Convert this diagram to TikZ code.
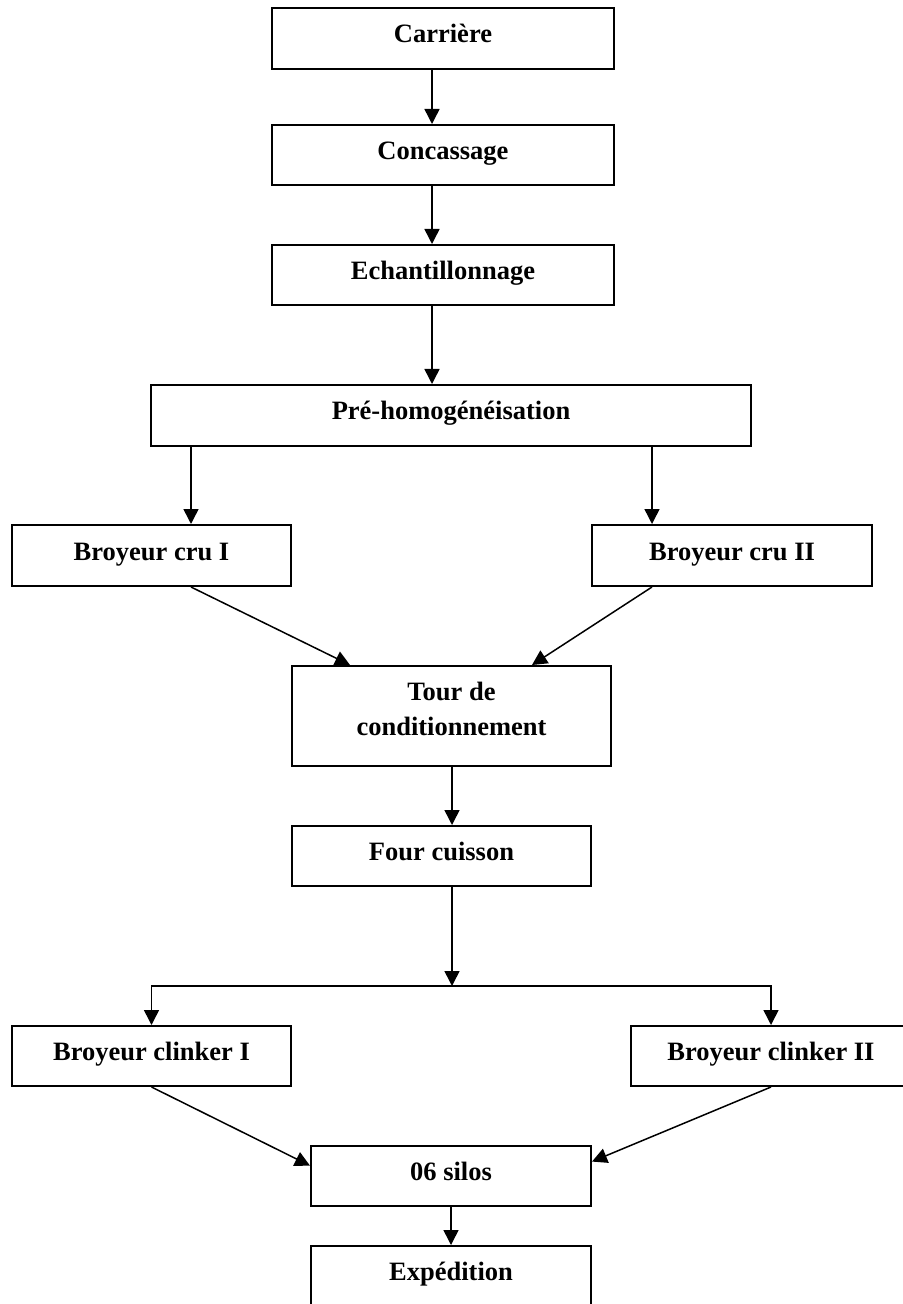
\documentclass[tikz,border=0pt]{standalone}
\usepackage{fontspec}
\setmainfont{Liberation Serif}
\usetikzlibrary{arrows.meta,calc}
\begin{document}
\begin{tikzpicture}[x=0.5pt,y=-0.5pt,
  font=\bfseries\fontsize{13.25}{17.5}\selectfont,
  box/.style={draw, line width=1pt, inner sep=0pt, align=center, text height=9pt, text depth=4.5pt},
  arr/.style={-{Triangle[length=7.5pt,width=7.5pt]}, line width=0.75pt}]
\useasboundingbox (0,0) rectangle (902,1304);
% boxes
\node[box, minimum width=171pt, minimum height=30.5pt] (carr) at (443,38.5) {Carrière};
\node[box, minimum width=171pt, minimum height=30pt] (conc) at (443,155) {Concassage};
\node[box, minimum width=171pt, minimum height=30pt] (ech) at (443,275) {Echantillonnage};
\node[box, minimum width=300pt, minimum height=30.5pt] (preh) at (451,415.5) {Pré-homogénéisation};
\node[box, minimum width=139.5pt, minimum height=30.5pt] (cru1) at (151.5,555.5) {Broyeur cru I};
\node[box, minimum width=140pt, minimum height=30.5pt] (cru2) at (732,555.5) {Broyeur cru II};
\node[box, minimum width=159.5pt, minimum height=50pt, text height=26.5pt, text depth=7.5pt] (tour) at (451.5,716) {Tour de\\conditionnement};
\node[box, minimum width=149.5pt, minimum height=30pt] (four) at (441.5,856) {Four cuisson};
\node[box, minimum width=139.5pt, minimum height=30pt] (bc1) at (151.5,1056) {Broyeur clinker I};
\node[box, minimum width=140pt, minimum height=30pt] (bc2) at (771,1056) {Broyeur clinker II};
\node[box, minimum width=140pt, minimum height=30pt] (silos) at (451,1176) {06 silos};
\node[box, minimum width=140pt, minimum height=30pt] (exp) at (451,1276) {Expédition};
% helper coordinates
\coordinate (xa) at (432,0);
\coordinate (xb) at (191,0);
\coordinate (xc) at (652,0);
\coordinate (xd) at (350,0);
\coordinate (xe) at (532,0);
\coordinate (split) at (452,986);
% connectors
\draw[arr] (carr.south -| xa) -- (conc.north -| xa);
\draw[arr] (conc.south -| xa) -- (ech.north -| xa);
\draw[arr] (ech.south -| xa) -- (preh.north -| xa);
\draw[arr] (preh.south -| xb) -- (cru1.north -| xb);
\draw[arr] (preh.south -| xc) -- (cru2.north -| xc);
\draw[arr] (cru1.south -| xb) -- (tour.north -| xd);
\draw[arr] (cru2.south -| xc) -- (tour.north -| xe);
\draw[arr] (tour.south -| split) -- (four.north -| split);
\draw[arr] (four.south -| split) -- (split);
\draw[arr] (split) -| (bc1.north);
\draw[arr] (split) -| (bc2.north);
\draw[arr] (bc1.south) -- ($(silos.north west)!0.333!(silos.south west)$);
\draw[arr] (bc2.south) -- ($(silos.north east)!0.267!(silos.south east)$);
\draw[arr] (silos.south) -- (exp.north);
\end{tikzpicture}
\end{document}
